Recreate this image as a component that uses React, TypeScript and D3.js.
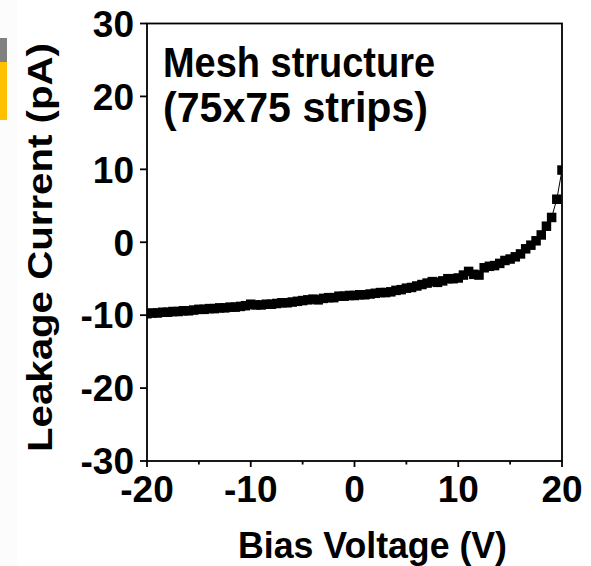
import React, { useEffect, useRef } from "react";
import * as d3 from "d3";

const voltages: number[] = [
  -20, -19.5, -19, -18.5, -18, -17.5, -17, -16.5, -16, -15.5,
  -15, -14.5, -14, -13.5, -13, -12.5, -12, -11.5, -11, -10.5,
  -10, -9.5, -9, -8.5, -8, -7.5, -7, -6.5, -6, -5.5,
  -5, -4.5, -4, -3.5, -3, -2.5, -2, -1.5, -1, -0.5,
  0, 0.5, 1, 1.5, 2, 2.5, 3, 3.5, 4, 4.5,
  5, 5.5, 6, 6.5, 7, 7.5, 8, 8.5, 9, 9.5,
  10, 10.5, 11, 11.5, 12, 12.5, 13, 13.5, 14, 14.5,
  15, 15.5, 16, 16.5, 17, 17.5, 18, 18.5, 19, 19.5, 20,
];

const currents: number[] = [
  -9.8, -9.7, -9.7, -9.6, -9.6, -9.5, -9.5, -9.4, -9.4, -9.3,
  -9.2, -9.2, -9.1, -9.1, -9.0, -9.0, -8.9, -8.9, -8.8, -8.7,
  -8.5, -8.6, -8.6, -8.5, -8.5, -8.4, -8.3, -8.3, -8.2, -8.1,
  -8.0, -7.9, -7.8, -7.9, -7.7, -7.6, -7.6, -7.4, -7.4, -7.3,
  -7.3, -7.2, -7.2, -7.1, -7.0, -6.9, -6.9, -6.8, -6.6, -6.5,
  -6.3, -6.2, -6.0, -5.8, -5.6, -5.4, -5.5, -5.3, -5.0, -5.0,
  -4.9, -4.5, -4.0, -4.4, -4.5, -3.5, -3.3, -3.2, -2.9, -2.5,
  -2.3, -2.0, -1.6, -0.9, -0.4, 0.2, 1.0, 2.2, 3.4, 5.9, 9.9,
];

const xTicks: number[] = [-20, -10, 0, 10, 20];
const xMinorTicks: number[] = [-15, -5, 5, 15];
const yTicks: number[] = [30, 20, 10, 0, -10, -20, -30];

const xTitle = "Bias Voltage (V)";
const yTitle = "Leakage Current (pA)";
const noteLines: string[] = ["Mesh structure", "(75x75 strips)"];

const W = 591;
const H = 566;
const left = 147;
const right = 562;
const top = 23.5;
const bottom = 461;
const FONT = "'Liberation Sans', Arial, sans-serif";

export default function App() {
  const ref = useRef<SVGSVGElement>(null);

  useEffect(() => {
    const svg = d3.select(ref.current);
    svg.selectAll("*").remove();

    const x = d3.scaleLinear().domain([-20, 20]).range([left, right]);
    const y = d3.scaleLinear().domain([-30, 30]).range([bottom, top]);

    svg.append("rect").attr("x", 0).attr("y", 0).attr("width", W).attr("height", H).attr("fill", "#ffffff");
    svg.append("rect").attr("x", 0).attr("y", 0).attr("width", 17).attr("height", H).attr("fill", "#fcfcfc");
    // clipped neighbour-figure fragment at left edge
    svg.append("rect").attr("x", 0).attr("y", 38).attr("width", 7).attr("height", 24).attr("fill", "#808080");
    svg.append("rect").attr("x", 0).attr("y", 62).attr("width", 7).attr("height", 58).attr("fill", "#FFC000");

    const defs = svg.append("defs");
    defs.append("clipPath").attr("id", "plotclip")
      .append("rect").attr("x", left).attr("y", top).attr("width", right - left).attr("height", bottom - top);

    const data = voltages.map((v, i) => [v, currents[i]] as [number, number]);

    const g = svg.append("g").attr("clip-path", "url(#plotclip)");
    const line = d3.line<[number, number]>().x(d => x(d[0])).y(d => y(d[1]));
    g.append("path").attr("d", line(data) || "").attr("fill", "none").attr("stroke", "#000").attr("stroke-width", 1);
    const ms = 9.5;
    g.selectAll("rect.pt").data(data).enter().append("rect")
      .attr("x", d => x(d[0]) - ms / 2)
      .attr("y", d => y(d[1]) - ms / 2)
      .attr("width", ms).attr("height", ms).attr("fill", "#000");

    // frame
    svg.append("rect").attr("x", left).attr("y", top).attr("width", right - left).attr("height", bottom - top)
      .attr("fill", "none").attr("stroke", "#000").attr("stroke-width", 1.8);

    // y ticks
    yTicks.forEach(t => {
      svg.append("line").attr("x1", left - 7).attr("x2", left).attr("y1", y(t)).attr("y2", y(t))
        .attr("stroke", "#000").attr("stroke-width", 1.8);
      svg.append("text").attr("x", 134).attr("y", y(t)).attr("dy", "0.36em")
        .attr("text-anchor", "end").attr("font-family", FONT).attr("font-weight", "bold")
        .attr("font-size", 37).attr("fill", "#000").text(String(t));
    });
    // x ticks
    xTicks.forEach(t => {
      svg.append("line").attr("x1", x(t)).attr("x2", x(t)).attr("y1", bottom).attr("y2", bottom + 6)
        .attr("stroke", "#000").attr("stroke-width", 1.8);
      svg.append("text").attr("x", x(t)).attr("y", 502)
        .attr("text-anchor", "middle").attr("font-family", FONT).attr("font-weight", "bold")
        .attr("font-size", 37).attr("fill", "#000").text(String(t));
    });
    xMinorTicks.forEach(t => {
      svg.append("line").attr("x1", x(t)).attr("x2", x(t)).attr("y1", bottom).attr("y2", bottom + 3.5)
        .attr("stroke", "#000").attr("stroke-width", 1.8);
    });

    svg.append("text").attr("x", 238).attr("y", 558)
      .attr("textLength", 269).attr("lengthAdjust", "spacingAndGlyphs")
      .attr("font-family", FONT).attr("font-weight", "bold").attr("font-size", 37).attr("fill", "#000")
      .text(xTitle);

    svg.append("text").attr("transform", `translate(52,452) rotate(-90)`)
      .attr("textLength", 409).attr("lengthAdjust", "spacingAndGlyphs")
      .attr("font-family", FONT).attr("font-weight", "bold").attr("font-size", 35).attr("fill", "#000")
      .text(yTitle);

    const noteLens = [272, 265];
    noteLines.forEach((s, i) => {
      svg.append("text").attr("x", 163).attr("y", 77 + i * 45)
        .attr("textLength", noteLens[i]).attr("lengthAdjust", "spacingAndGlyphs")
        .attr("font-family", FONT).attr("font-weight", "bold").attr("font-size", 42).attr("fill", "#000")
        .text(s);
    });
  }, []);

  return (
    <svg ref={ref} width={W} height={H}
      style={{ position: "absolute", left: 0, top: 0, display: "block" }} />
  );
}
